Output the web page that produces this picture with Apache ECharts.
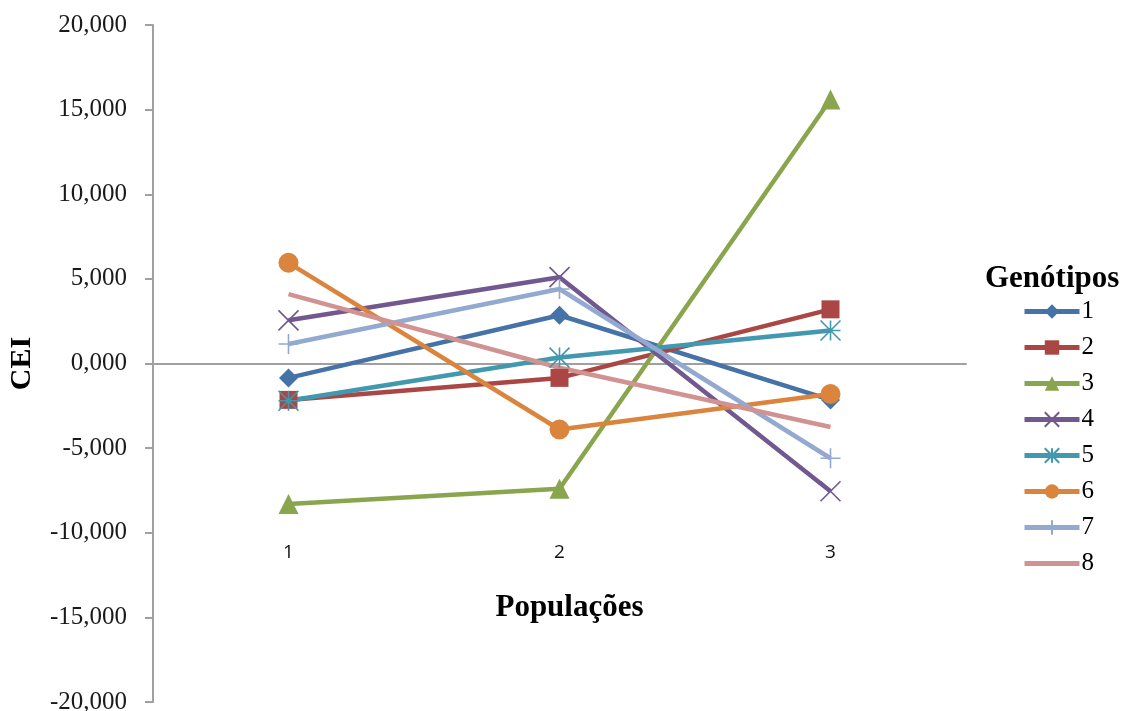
<!DOCTYPE html>
<html>
<head>
<meta charset="utf-8">
<script src="https://cdn.jsdelivr.net/npm/echarts@6/dist/echarts.min.js"></script>
<style>
  html, body { margin: 0; padding: 0; background: #fff; }
  #chart { width: 1124px; height: 711px; }
</style>
</head>
<body>
<div id="chart"></div>
<script>
// Populations on the category axis
const populacoes = ['1', '2', '3'];

// CEI per genotype across the three populations
const g1 = [-0.85, 2.85, -2.15];
const g2 = [-2.15, -0.85, 3.2];
const g3 = [-8.3, -7.4, 15.6];
const g4 = [2.55, 5.1, -7.55];
const g5 = [-2.2, 0.35, 1.95];
const g6 = [5.95, -3.9, -1.8];
const g7 = [1.15, 4.4, -5.6];
const g8 = [4.1, -0.25, -3.75];

const genotypeNames = ['1', '2', '3', '4', '5', '6', '7', '8'];
const genotypeData = [g1, g2, g3, g4, g5, g6, g7, g8];

const colors = ['#4572A7', '#AA4643', '#89A54E', '#71588F', '#4198AF', '#DB843D', '#93A9CF', '#D19392'];

// Stroked marker outlines
const xMark = 'path://M0,0L10,10M10,0L0,10';
const starMark = 'path://M5,0L5,10M0,0L10,10M10,0L0,10M0,5L10,5';
const plusMark = 'path://M5,0L5,10M0,5L10,5';

const markers = [
  { symbol: 'diamond', size: 19, stroke: false },
  { symbol: 'rect', size: 18, stroke: false },
  { symbol: 'triangle', size: 20, stroke: false },
  { symbol: xMark, size: 20, stroke: true },
  { symbol: starMark, size: 20, stroke: true },
  { symbol: 'circle', size: 20, stroke: false },
  { symbol: plusMark, size: 20, stroke: true },
  { symbol: 'none', size: 0, stroke: false }
];

const serif = '"Liberation Serif", "DejaVu Serif", serif';

const series = genotypeData.map((vals, i) => ({
  name: genotypeNames[i],
  type: 'line',
  data: vals,
  symbol: markers[i].symbol,
  symbolSize: markers[i].size,
  showSymbol: markers[i].symbol !== 'none',
  lineStyle: { color: colors[i], width: 4.5 },
  itemStyle: markers[i].stroke
    ? { color: colors[i], borderColor: colors[i], borderWidth: 1.6 }
    : { color: colors[i], borderWidth: 0 },
  emphasis: { disabled: true },
  animation: false
}));

// Legend entries; genotype 8 is drawn as a plain line
const legendData = genotypeNames.map((n, i) =>
  markers[i].symbol === 'none'
    ? { name: n, itemStyle: { opacity: 0 } }
    : { name: n });

const chart = echarts.init(document.getElementById('chart'), null, { renderer: 'canvas' });

chart.setOption({
  backgroundColor: '#ffffff',
  animation: false,
  title: {
    text: 'Genótipos',
    left: 980,
    top: 258,
    textStyle: { fontFamily: serif, fontSize: 31, fontWeight: 'bold', color: '#000' }
  },
  legend: {
    orient: 'vertical',
    left: 1017,
    top: 294,
    itemWidth: 55,
    itemHeight: 18,
    itemGap: 11,
    data: legendData,
    selectedMode: false,
    lineStyle: { width: 5 },
    textStyle: { fontFamily: serif, fontSize: 25, color: '#000', padding: [0, 0, 0, -3] }
  },
  grid: { left: 153, right: 158, top: 25, bottom: 9, containLabel: false, outerBoundsMode: 'none' },
  xAxis: {
    type: 'category',
    data: populacoes,
    boundaryGap: true,
    axisLine: { onZero: true, lineStyle: { color: '#a0a0a0', width: 2 } },
    axisTick: { show: false },
    axisLabel: { margin: -159, fontFamily: '"Open Sans", "Liberation Sans", sans-serif', fontSize: 19, color: '#111' },
    name: 'Populações',
    nameLocation: 'middle',
    nameGap: -110,
    nameTextStyle: { fontFamily: serif, fontSize: 31, fontWeight: 'bold', color: '#000', padding: [0, 0, 0, 20] },
    splitLine: { show: false }
  },
  yAxis: {
    type: 'value',
    min: -20,
    max: 20,
    interval: 5,
    axisLine: { show: true, lineStyle: { color: '#a0a0a0', width: 2 } },
    axisTick: { show: true, inside: false, length: 8, lineStyle: { color: '#a0a0a0', width: 2 } },
    axisLabel: {
      margin: 26,
      fontFamily: serif,
      fontSize: 25,
      color: '#1a1a1a',
      formatter: v => v.toFixed(3).replace('.', ',')
    },
    splitLine: { show: false },
    name: 'CEI',
    nameLocation: 'middle',
    nameRotate: 90,
    nameGap: 116,
    nameTextStyle: { fontFamily: serif, fontSize: 30, fontWeight: 'bold', color: '#000' }
  },
  series: series
});
</script>
</body>
</html>
